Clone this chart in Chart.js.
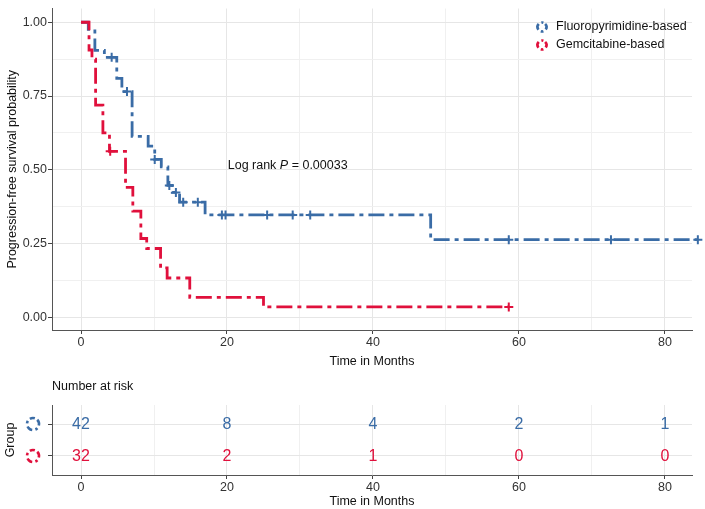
<!DOCTYPE html>
<html>
<head>
<meta charset="utf-8">
<script src="https://cdn.jsdelivr.net/npm/chart.js@4.4.1/dist/chart.umd.min.js"></script>
<style>
  html, body { margin: 0; padding: 0; background: #fff; }
  #wrap { position: relative; width: 705px; height: 509px; }
  #kmChart { position: absolute; left: 0; top: 0; }
  #riskChart { position: absolute; left: 0; top: 380px; }
</style>
</head>
<body>
<div id="wrap">
  <canvas id="kmChart" width="705" height="380"></canvas>
  <canvas id="riskChart" width="705" height="129"></canvas>
</div>
<script>
// ---- data ----
const groups = ["Fluoropyrimidine-based", "Gemcitabine-based"];

// Kaplan-Meier steps (time in months, survival from that time on)
const fluoroTime = [0, 1.0, 1.9, 3.2, 4.9, 5.6, 7.0, 9.2, 10.1, 11.0, 11.9, 12.5, 13.5, 17.0, 47.9, 84.5];
const fluoroSurv = [1, 0.976, 0.905, 0.881, 0.81, 0.765, 0.613, 0.58, 0.535, 0.51, 0.447, 0.423, 0.39, 0.347, 0.263, 0.263];
const gemTime = [0, 1.1, 1.5, 2.0, 3.0, 3.9, 6.1, 7.1, 8.2, 9.0, 10.9, 11.8, 14.9, 25.0, 58.6];
const gemSurv = [1, 0.906, 0.875, 0.719, 0.625, 0.5625, 0.44, 0.36, 0.267, 0.233, 0.167, 0.133, 0.067, 0.035, 0.035];

// censor marks
const fluoroCensorTime = [4.2, 6.3, 10.1, 12.1, 13.0, 14.0, 16.0, 19.3, 19.8, 25.5, 29.0, 31.4, 58.6, 72.6, 84.5];
const fluoroCensorSurv = [0.881, 0.765, 0.535, 0.447, 0.423, 0.39, 0.39, 0.347, 0.347, 0.347, 0.347, 0.347, 0.263, 0.263, 0.263];
const gemCensorTime = [4.0, 58.6];
const gemCensorSurv = [0.5625, 0.035];

// number at risk
const riskTimes = [0, 20, 40, 60, 80];
const fluoroRisk = [42, 8, 4, 2, 1];
const gemRisk = [32, 2, 1, 0, 0];

// axes
const monthTicks = [0, 20, 40, 60, 80];
const monthGrid = [0, 10, 20, 30, 40, 50, 60, 70, 80];
const survTicks = [0, 0.25, 0.5, 0.75, 1];
const survGrid = [0, 0.125, 0.25, 0.375, 0.5, 0.625, 0.75, 0.875, 1];
const pValue = "0.00033";

// ---- styles ----
const BLUE = "#3A6CA6";
const RED = "#E0103C";
const FONT = '"Liberation Sans", Arial, sans-serif';
const FS = 12.5;
const DASH = [16, 5, 4, 5];
const X_MIN = -3.973, X_MAX = 83.7;

function pairs(xs, ys) {
  return xs.map((x, i) => ({ x: x, y: ys[i] }));
}

function drawKey(ctx, cx, cy, r, color) {
  ctx.save();
  ctx.strokeStyle = color;
  ctx.lineWidth = 2.6;
  ctx.setLineDash([6, 3, 2.5, 3]);
  ctx.beginPath();
  ctx.arc(cx, cy, r, -0.25 * Math.PI, 1.6 * Math.PI);
  ctx.stroke();
  ctx.restore();
}

function gridColor(majors) {
  return (c) => majors.includes(c.tick.value) ? "#E6E6E6" : "#F0F0F0";
}
function tickColor(majors) {
  return (c) => majors.includes(c.tick.value) ? "#444" : "rgba(0,0,0,0)";
}

// ---- main KM chart ----
const kmDecor = {
  id: "kmDecor",
  afterDraw(chart) {
    const { ctx, scales: { x, y } } = chart;
    ctx.save();
    ctx.textBaseline = "middle";
    ctx.fillStyle = "#111";

    // log rank annotation
    let px = x.getPixelForValue(20.1);
    const py = y.getPixelForValue(0.513);
    ctx.font = FS + "px " + FONT;
    const part1 = "Log rank ";
    ctx.fillText(part1, px, py);
    px += ctx.measureText(part1).width;
    ctx.font = "italic " + FS + "px " + FONT;
    ctx.fillText("P", px, py);
    px += ctx.measureText("P").width;
    ctx.font = FS + "px " + FONT;
    ctx.fillText(" = " + pValue, px, py);

    // legend
    const colors = [BLUE, RED];
    groups.forEach((g, i) => {
      const ly = 27 + i * 18;
      drawKey(ctx, 542, ly, 4.5, colors[i]);
      ctx.fillStyle = "#111";
      ctx.font = FS + "px " + FONT;
      ctx.fillText(g, 556, ly);
    });
    ctx.restore();
  }
};

new Chart(document.getElementById("kmChart"), {
  type: "line",
  data: {
    datasets: [
      {
        label: groups[1],
        data: pairs(gemTime, gemSurv),
        borderColor: RED,
        borderWidth: 2.8,
        borderDash: DASH,
        stepped: "before",
        pointRadius: 0,
        clip: false,
        order: 1
      },
      {
        type: "scatter",
        data: pairs(gemCensorTime, gemCensorSurv),
        pointStyle: "cross",
        pointRadius: 4.5,
        borderColor: RED,
        borderWidth: 2,
        clip: false,
        order: 0
      },
      {
        label: groups[0],
        data: pairs(fluoroTime, fluoroSurv),
        borderColor: BLUE,
        borderWidth: 2.8,
        borderDash: DASH,
        stepped: "before",
        pointRadius: 0,
        clip: false,
        order: 3
      },
      {
        type: "scatter",
        data: pairs(fluoroCensorTime, fluoroCensorSurv),
        pointStyle: "cross",
        pointRadius: 4.5,
        borderColor: BLUE,
        borderWidth: 2,
        clip: false,
        order: 2
      }
    ]
  },
  options: {
    responsive: false,
    animation: false,
    devicePixelRatio: 1,
    layout: { padding: { top: 3, right: 13, left: 0, bottom: 0 } },
    plugins: { legend: { display: false }, tooltip: { enabled: false } },
    scales: {
      x: {
        type: "linear",
        min: X_MIN,
        max: X_MAX,
        afterBuildTicks: (s) => { s.ticks = monthGrid.map(v => ({ value: v })); },
        afterFit: (s) => { s.height = 50; },
        grid: { color: gridColor(monthTicks), tickColor: tickColor(monthTicks), tickLength: 4 },
        border: { color: "#555", width: 1 },
        ticks: {
          autoSkip: false, maxRotation: 0, padding: 1, color: "#333",
          font: { family: FONT, size: FS },
          callback: (v) => monthTicks.includes(v) ? String(v) : ""
        },
        title: {
          display: true, text: "Time in Months", color: "#111",
          font: { family: FONT, size: FS }, padding: { top: 0, bottom: 11 }
        }
      },
      y: {
        type: "linear",
        min: -0.0433,
        max: 1.0467,
        afterBuildTicks: (s) => { s.ticks = survGrid.map(v => ({ value: v })); },
        afterFit: (s) => { s.width = 52; },
        grid: { color: gridColor(survTicks), tickColor: tickColor(survTicks), tickLength: 4 },
        border: { color: "#555", width: 1 },
        ticks: {
          autoSkip: false, padding: 1, color: "#333",
          font: { family: FONT, size: FS },
          callback: (v) => survTicks.includes(v) ? v.toFixed(2) : ""
        },
        title: {
          display: true, text: "Progression-free survival probability", color: "#111",
          font: { family: FONT, size: FS }, padding: { top: 5, bottom: 0 }
        }
      }
    }
  },
  plugins: [kmDecor]
});

// ---- number-at-risk table ----
const riskRows = [2, 1];
const riskDecor = {
  id: "riskDecor",
  afterDatasetsDraw(chart) {
    const { ctx, scales: { y } } = chart;
    ctx.save();
    ctx.textAlign = "center";
    ctx.textBaseline = "middle";
    ctx.font = "16px " + FONT;
    chart.data.datasets.forEach((ds, i) => {
      const meta = chart.getDatasetMeta(i);
      ctx.fillStyle = ds.textColor;
      meta.data.forEach((pt, j) => {
        ctx.fillText(String(ds.counts[j]), pt.x, pt.y + 1);
      });
      drawKey(ctx, 33, y.getPixelForValue(riskRows[i]), 6, ds.textColor);
    });
    ctx.textAlign = "left";
    ctx.font = FS + "px " + FONT;
    ctx.fillStyle = "#111";
    ctx.fillText("Number at risk", 52, 7);
    ctx.restore();
  }
};

new Chart(document.getElementById("riskChart"), {
  type: "scatter",
  data: {
    datasets: [
      { label: groups[0], data: riskTimes.map(t => ({ x: t, y: riskRows[0] })), counts: fluoroRisk, textColor: BLUE, pointRadius: 0 },
      { label: groups[1], data: riskTimes.map(t => ({ x: t, y: riskRows[1] })), counts: gemRisk, textColor: RED, pointRadius: 0 }
    ]
  },
  options: {
    responsive: false,
    animation: false,
    devicePixelRatio: 1,
    layout: { padding: { top: 25, right: 13, left: 0, bottom: 0 } },
    plugins: { legend: { display: false }, tooltip: { enabled: false } },
    scales: {
      x: {
        type: "linear",
        min: X_MIN,
        max: X_MAX,
        afterBuildTicks: (s) => { s.ticks = monthGrid.map(v => ({ value: v })); },
        afterFit: (s) => { s.height = 34; },
        grid: { color: gridColor(monthTicks), tickColor: tickColor(monthTicks), tickLength: 4 },
        border: { color: "#555", width: 1 },
        ticks: {
          autoSkip: false, maxRotation: 0, padding: 1, color: "#333",
          font: { family: FONT, size: FS },
          callback: (v) => monthTicks.includes(v) ? String(v) : ""
        },
        title: {
          display: true, text: "Time in Months", color: "#111",
          font: { family: FONT, size: FS }, padding: { top: 0, bottom: 0 }
        }
      },
      y: {
        type: "linear",
        min: 0.406,
        max: 2.594,
        afterBuildTicks: (s) => { s.ticks = riskRows.map(v => ({ value: v })); },
        afterFit: (s) => { s.width = 52; },
        grid: { color: "#E6E6E6", tickColor: "#444", tickLength: 4 },
        border: { color: "#555", width: 1 },
        ticks: { display: true, padding: 1, callback: () => "" },
        title: {
          display: true, text: "Group", color: "#111",
          font: { family: FONT, size: FS }, padding: { top: 3, bottom: 0 }
        }
      }
    }
  },
  plugins: [riskDecor]
});
</script>
</body>
</html>
